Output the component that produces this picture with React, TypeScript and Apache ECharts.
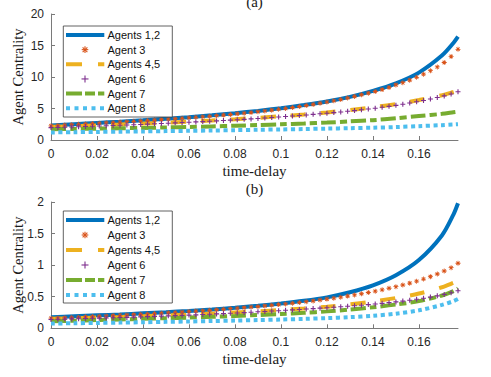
import React, { useEffect, useRef } from "react";
import * as echarts from "echarts";

// ---------- data ----------
const xLine = [0, 0.01, 0.02, 0.03, 0.04, 0.05, 0.06, 0.07, 0.08, 0.09, 0.1, 0.11, 0.12, 0.13, 0.14, 0.15, 0.16, 0.17, 0.175, 0.177];

const xMark = [
  0, 0.003, 0.006, 0.009, 0.012, 0.015, 0.018, 0.021, 0.024, 0.027,
  0.03, 0.033, 0.036, 0.039, 0.042, 0.045, 0.048, 0.051, 0.054, 0.057,
  0.06, 0.063, 0.066, 0.069, 0.072, 0.075, 0.078, 0.081, 0.084, 0.087,
  0.09, 0.093, 0.096, 0.099, 0.102, 0.105, 0.108, 0.111, 0.114, 0.117,
  0.12, 0.123, 0.126, 0.129, 0.132, 0.135, 0.138, 0.141, 0.144, 0.147,
  0.15, 0.153, 0.156, 0.159, 0.162, 0.165, 0.168, 0.171, 0.174, 0.177,
];

const xTicks = [0, 0.02, 0.04, 0.06, 0.08, 0.1, 0.12, 0.14, 0.16];

const seriesNames = ["Agents 1,2", "Agent 3", "Agents 4,5", "Agent 6", "Agent 7", "Agent 8"];

// panel (a)
const agents12A = [2.3, 2.5, 2.7, 2.9, 3.12, 3.36, 3.62, 3.92, 4.25, 4.62, 5.05, 5.55, 6.12, 6.85, 7.8, 9.0, 10.7, 13.4, 15.4, 16.4];
const agent3A = [
  2.25, 2.31, 2.37, 2.43, 2.49, 2.55, 2.61, 2.67, 2.73, 2.79,
  2.85, 2.91, 2.97, 3.03, 3.09, 3.16, 3.23, 3.3, 3.37, 3.44,
  3.52, 3.6, 3.68, 3.77, 3.86, 3.95, 4.05, 4.15, 4.26, 4.37,
  4.49, 4.61, 4.74, 4.87, 5.01, 5.16, 5.32, 5.48, 5.65, 5.83,
  6.02, 6.22, 6.44, 6.67, 6.92, 7.18, 7.44, 7.7, 8.0, 8.35,
  8.75, 9.1, 9.5, 9.95, 10.45, 11.0, 11.6, 12.3, 13.25, 14.4,
];
const agents45A = [2.1, 2.2, 2.32, 2.45, 2.6, 2.75, 2.92, 3.1, 3.3, 3.52, 3.77, 4.05, 4.38, 4.76, 5.2, 5.7, 6.35, 7.1, 7.62, 7.85];
const agent6A = [
  1.97, 2.0, 2.03, 2.07, 2.11, 2.15, 2.19, 2.23, 2.27, 2.31,
  2.35, 2.39, 2.43, 2.47, 2.52, 2.57, 2.62, 2.67, 2.72, 2.77,
  2.82, 2.87, 2.92, 2.97, 3.03, 3.09, 3.15, 3.21, 3.28, 3.35,
  3.42, 3.49, 3.57, 3.65, 3.73, 3.81, 3.89, 3.98, 4.07, 4.16,
  4.25, 4.35, 4.45, 4.56, 4.67, 4.79, 4.92, 5.05, 5.19, 5.34,
  5.5, 5.68, 5.87, 6.07, 6.28, 6.5, 6.74, 7.0, 7.3, 7.65,
];
const agent7A = [1.7, 1.75, 1.8, 1.86, 1.92, 1.99, 2.07, 2.16, 2.26, 2.37, 2.49, 2.62, 2.77, 2.95, 3.15, 3.45, 3.8, 4.15, 4.4, 4.5];
const agent8A = [1.2, 1.24, 1.28, 1.32, 1.36, 1.41, 1.46, 1.51, 1.56, 1.62, 1.68, 1.74, 1.81, 1.88, 1.95, 2.06, 2.2, 2.36, 2.46, 2.5];

// panel (b)
const agents12B = [0.175, 0.19, 0.205, 0.22, 0.237, 0.255, 0.275, 0.298, 0.325, 0.356, 0.392, 0.435, 0.49, 0.57, 0.68, 0.84, 1.08, 1.47, 1.8, 1.98];
const agent3B = [
  0.16, 0.164, 0.168, 0.172, 0.176, 0.181, 0.186, 0.191, 0.196, 0.201,
  0.206, 0.211, 0.216, 0.221, 0.227, 0.233, 0.239, 0.245, 0.251, 0.258,
  0.265, 0.272, 0.279, 0.286, 0.294, 0.302, 0.31, 0.318, 0.327, 0.336,
  0.345, 0.355, 0.365, 0.375, 0.386, 0.397, 0.409, 0.421, 0.434, 0.448,
  0.462, 0.477, 0.493, 0.51, 0.528, 0.547, 0.567, 0.588, 0.61, 0.634,
  0.659, 0.686, 0.715, 0.746, 0.78, 0.818, 0.86, 0.907, 0.96, 1.03,
];
const agents45B = [0.15, 0.16, 0.17, 0.18, 0.192, 0.205, 0.218, 0.233, 0.25, 0.268, 0.29, 0.314, 0.342, 0.378, 0.425, 0.48, 0.55, 0.65, 0.72, 0.75];
const agent6B = [
  0.14, 0.143, 0.146, 0.149, 0.152, 0.155, 0.158, 0.161, 0.164, 0.167,
  0.17, 0.173, 0.177, 0.181, 0.185, 0.189, 0.193, 0.197, 0.201, 0.205,
  0.209, 0.213, 0.218, 0.223, 0.228, 0.233, 0.238, 0.243, 0.249, 0.255,
  0.261, 0.267, 0.273, 0.279, 0.285, 0.291, 0.298, 0.305, 0.312, 0.319,
  0.326, 0.333, 0.341, 0.349, 0.357, 0.366, 0.375, 0.385, 0.395, 0.406,
  0.418, 0.431, 0.445, 0.46, 0.476, 0.494, 0.514, 0.537, 0.563, 0.595,
];
const agent7B = [0.11, 0.12, 0.13, 0.14, 0.15, 0.16, 0.17, 0.182, 0.195, 0.21, 0.226, 0.245, 0.268, 0.297, 0.333, 0.376, 0.43, 0.52, 0.59, 0.63];
const agent8B = [0.075, 0.08, 0.085, 0.09, 0.096, 0.102, 0.108, 0.115, 0.122, 0.13, 0.139, 0.149, 0.161, 0.177, 0.198, 0.232, 0.285, 0.37, 0.43, 0.465];

// ---------- styles ----------
const C_BLUE = "#0072BD";
const C_ORANGE = "#D95319";
const C_YELLOW = "#EDB120";
const C_PURPLE = "#7E2F8E";
const C_GREEN = "#77AC30";
const C_CYAN = "#4DBEEE";
const AXIS = "#7a7a7a";
const TICKTXT = "#262626";
const SANS = '"Liberation Sans", Arial, Helvetica, sans-serif';
const SERIF = '"Liberation Serif", "DejaVu Serif", serif';

const STAR =
  "path://M0,4.2H10V5.8H0Z M4.2,0H5.8V10H4.2Z M2.07,0.93L9.07,7.93L7.93,9.07L0.93,2.07Z M7.93,0.93L9.07,2.07L2.07,9.07L0.93,7.93Z";
const PLUS = "path://M3.9,0H6.1V3.9H10V6.1H6.1V10H3.9V6.1H0V3.9H3.9Z";

const pairs = (xs: number[], ys: number[]) => xs.map((x, i) => [x, ys[i]]);

function lineSeries(name: string, ys: number[], color: string, width: number, dash: any, gi: number) {
  return {
    type: "line",
    name,
    xAxisIndex: gi,
    yAxisIndex: gi,
    data: pairs(xLine, ys),
    symbol: "none",
    showSymbol: false,
    smooth: 0.3,
    silent: true,
    lineStyle: { color, width, type: dash, cap: "butt" },
  };
}

function markSeries(name: string, ys: number[], color: string, symbol: string, gi: number) {
  return {
    type: "line",
    name,
    xAxisIndex: gi,
    yAxisIndex: gi,
    data: pairs(xMark, ys),
    symbol,
    symbolSize: 5,
    showSymbol: true,
    showAllSymbol: true,
    silent: true,
    lineStyle: { width: 0, opacity: 0 },
    itemStyle: { color },
  };
}

function panelSeries(gi: number, d: number[][]) {
  return [
    lineSeries(seriesNames[0], d[0], C_BLUE, 4, "solid", gi),
    markSeries(seriesNames[1], d[1], C_ORANGE, STAR, gi),
    lineSeries(seriesNames[2], d[2], C_YELLOW, 4, [15, 15], gi),
    markSeries(seriesNames[3], d[3], C_PURPLE, PLUS, gi),
    lineSeries(seriesNames[4], d[4], C_GREEN, 4, [15, 4, 7, 4], gi),
    lineSeries(seriesNames[5], d[5], C_CYAN, 4, [4, 3.5], gi),
  ];
}

function xAxis(gi: number) {
  return {
    type: "value",
    gridIndex: gi,
    min: 0,
    max: 0.177,
    interval: 0.02,
    axisLine: { show: true, onZero: false, lineStyle: { color: AXIS, width: 1 } },
    axisTick: { show: true, inside: true, length: 4, customValues: xTicks, lineStyle: { color: AXIS, width: 1 } },
    axisLabel: {
      customValues: xTicks,
      color: TICKTXT,
      fontSize: 12,
      fontFamily: SANS,
      margin: 8,
      formatter: (v: number) => String(v),
    },
    splitLine: { show: false },
    name: "time-delay",
    nameLocation: "middle",
    nameGap: 23,
    nameMoveOverlap: false,
    nameTextStyle: { fontFamily: SERIF, fontSize: 15, color: "#1a1a1a" },
  };
}

function yAxis(gi: number, max: number, interval: number) {
  return {
    type: "value",
    gridIndex: gi,
    min: 0,
    max,
    interval,
    axisLine: { show: true, onZero: false, lineStyle: { color: AXIS, width: 1 } },
    axisTick: { show: true, inside: true, length: 4, lineStyle: { color: AXIS, width: 1 } },
    axisLabel: { color: TICKTXT, fontSize: 12, fontFamily: SANS, margin: 7 },
    splitLine: { show: false },
    name: "Agent Centrality",
    nameLocation: "middle",
    nameGap: 26,
    nameMoveOverlap: false,
    nameTextStyle: { fontFamily: SERIF, fontSize: 14.5, color: "#1a1a1a" },
  };
}

function legendGraphic(top: number, height: number, rowGap: number) {
  const left = 63.3;
  const width = 109;
  const sx1 = 66;
  const sx2 = 104.3;
  const mx = 85;
  const els: any[] = [
    {
      type: "rect",
      z: 100,
      shape: { x: left, y: top, width, height },
      style: { fill: "#ffffff", stroke: "#3a3a3a", lineWidth: 0.8 },
    },
  ];
  seriesNames.forEach((name, i) => {
    const cy = top + 9 + i * rowGap;
    if (i === 0) {
      els.push({ type: "line", z: 101, shape: { x1: sx1, y1: cy, x2: sx2, y2: cy }, style: { stroke: C_BLUE, lineWidth: 4 } });
    } else if (i === 1) {
      const r = 3.3;
      const d = r * 0.72;
      [[-r, 0, r, 0], [0, -r, 0, r], [-d, -d, d, d], [-d, d, d, -d]].forEach((s) =>
        els.push({
          type: "line",
          z: 101,
          shape: { x1: mx + s[0], y1: cy + s[1], x2: mx + s[2], y2: cy + s[3] },
          style: { stroke: C_ORANGE, lineWidth: 1.1 },
        })
      );
    } else if (i === 2) {
      els.push({ type: "line", z: 101, shape: { x1: sx1, y1: cy, x2: sx2, y2: cy }, style: { stroke: C_YELLOW, lineWidth: 4, lineDash: [16, 16] } });
    } else if (i === 3) {
      const r = 3.5;
      [[-r, 0, r, 0], [0, -r, 0, r]].forEach((s) =>
        els.push({
          type: "line",
          z: 101,
          shape: { x1: mx + s[0], y1: cy + s[1], x2: mx + s[2], y2: cy + s[3] },
          style: { stroke: C_PURPLE, lineWidth: 1.1 },
        })
      );
    } else if (i === 4) {
      els.push({ type: "line", z: 101, shape: { x1: sx1, y1: cy, x2: sx2, y2: cy }, style: { stroke: C_GREEN, lineWidth: 4, lineDash: [16, 3, 10, 3] } });
    } else {
      els.push({ type: "line", z: 101, shape: { x1: sx1, y1: cy, x2: sx2, y2: cy }, style: { stroke: C_CYAN, lineWidth: 4, lineDash: [4, 4.5] } });
    }
    els.push({
      type: "text",
      z: 101,
      x: 107.5,
      y: cy,
      style: { text: name, fill: "#111", font: `11px ${SANS}`, verticalAlign: "middle", align: "left" },
    });
  });
  return els;
}

export default function App() {
  const ref = useRef<HTMLDivElement>(null);

  useEffect(() => {
    if (!ref.current) return;
    const chart = echarts.init(ref.current, null, { renderer: "svg" });
    const option: any = {
      animation: false,
      backgroundColor: "#ffffff",
      grid: [
        { left: 51, top: 14, width: 407, height: 126, outerBoundsMode: "none" },
        { left: 51, top: 202, width: 407, height: 126.3, outerBoundsMode: "none" },
      ],
      xAxis: [xAxis(0), xAxis(1)],
      yAxis: [yAxis(0, 20, 5), yAxis(1, 2, 0.5)],
      series: [
        ...panelSeries(0, [agents12A, agent3A, agents45A, agent6A, agent7A, agent8A]),
        ...panelSeries(1, [agents12B, agent3B, agents45B, agent6B, agent7B, agent8B]),
      ],
      graphic: [
        {
          type: "text",
          x: 254.5,
          y: 2,
          style: { text: "(a)", fill: "#1a1a1a", font: `15px ${SERIF}`, align: "center", verticalAlign: "middle" },
        },
        {
          type: "text",
          x: 254.5,
          y: 189,
          style: { text: "(b)", fill: "#1a1a1a", font: `15px ${SERIF}`, align: "center", verticalAlign: "middle" },
        },
        ...legendGraphic(26, 91, 14.65),
        ...legendGraphic(211, 92, 15),
      ],
    };
    chart.setOption(option);
    return () => chart.dispose();
  }, []);

  return (
    <div
      ref={ref}
      style={{ position: "absolute", left: 0, top: 0, width: 491, height: 377, background: "#fff" }}
    />
  );
}
